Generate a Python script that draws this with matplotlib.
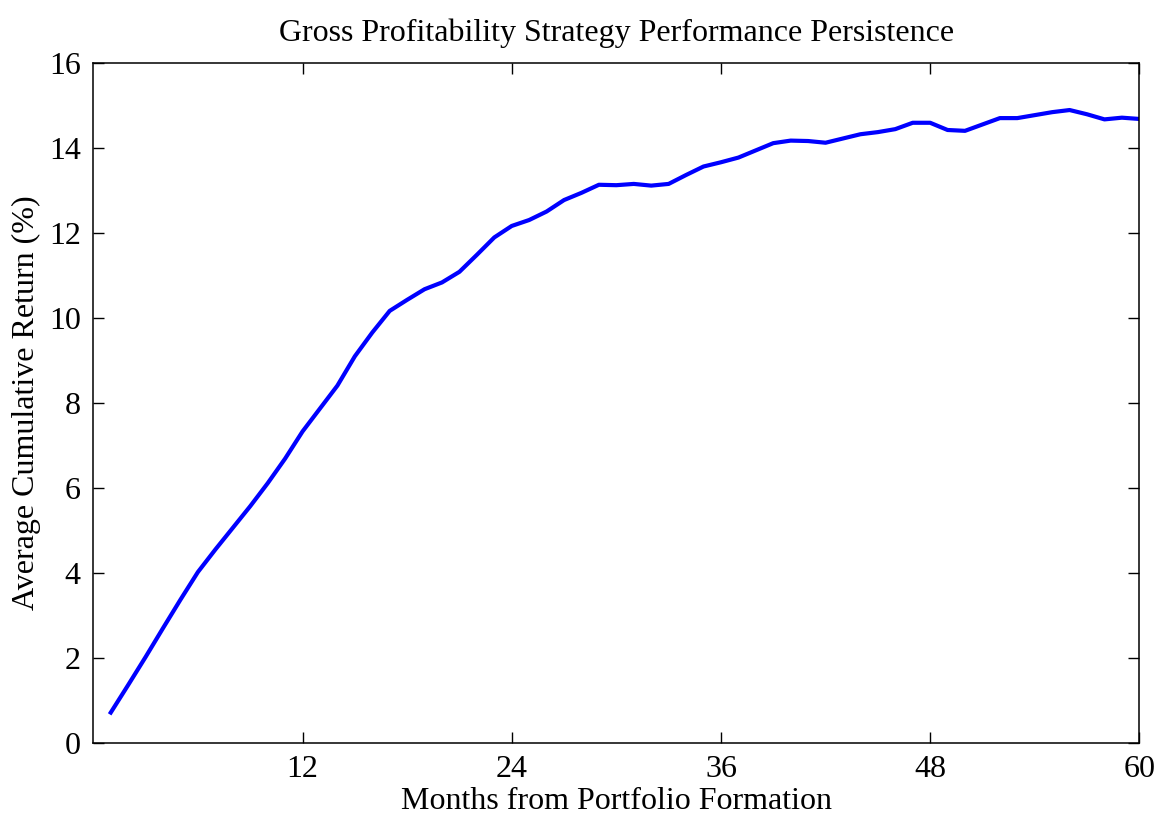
import matplotlib
matplotlib.use("Agg")
import matplotlib.pyplot as plt
import numpy as np

months = np.arange(1, 61)
cum_return = [
    0.71, 1.36, 2.02, 2.70, 3.37, 4.02, 4.55, 5.06, 5.57, 6.11,
    6.69, 7.33, 7.87, 8.41, 9.10, 9.66, 10.17, 10.43, 10.68, 10.84,
    11.09, 11.49, 11.90, 12.17, 12.31, 12.51, 12.78, 12.95, 13.14, 13.13,
    13.16, 13.12, 13.16, 13.37, 13.57, 13.67, 13.78, 13.95, 14.12, 14.18,
    14.17, 14.13, 14.23, 14.33, 14.38, 14.45, 14.60, 14.60, 14.43, 14.41,
    14.56, 14.71, 14.71, 14.78, 14.85, 14.90, 14.80, 14.68, 14.72, 14.69,
]
x_ticks = [12, 24, 36, 48, 60]
y_ticks = list(range(0, 17, 2))

plt.rcParams["font.family"] = ["Liberation Serif", "DejaVu Serif"]
plt.rcParams["font.size"] = 23

fig = plt.figure(figsize=(11.58, 8.14), dpi=100)
ax = fig.add_axes([0.0806, 0.0876, 0.9033, 0.8346])

ax.plot(months, cum_return, color="#0000ff", linewidth=3.0)

ax.set_xlim(0, 60)
ax.set_ylim(0, 16)
ax.set_xticks(x_ticks)
ax.set_yticks(y_ticks)
ax.tick_params(direction="in", length=8, width=1, top=True, right=True, labelsize=23, pad=9)
for spine in ax.spines.values():
    spine.set_linewidth(1.1)

ax.set_title("Gross Profitability Strategy Performance Persistence", fontsize=23, pad=16)
ax.set_xlabel("Months from Portfolio Formation", fontsize=23, labelpad=2)
ax.set_ylabel("Average Cumulative Return (%)", fontsize=23, labelpad=6)

fig.savefig("out.png", dpi=100)
